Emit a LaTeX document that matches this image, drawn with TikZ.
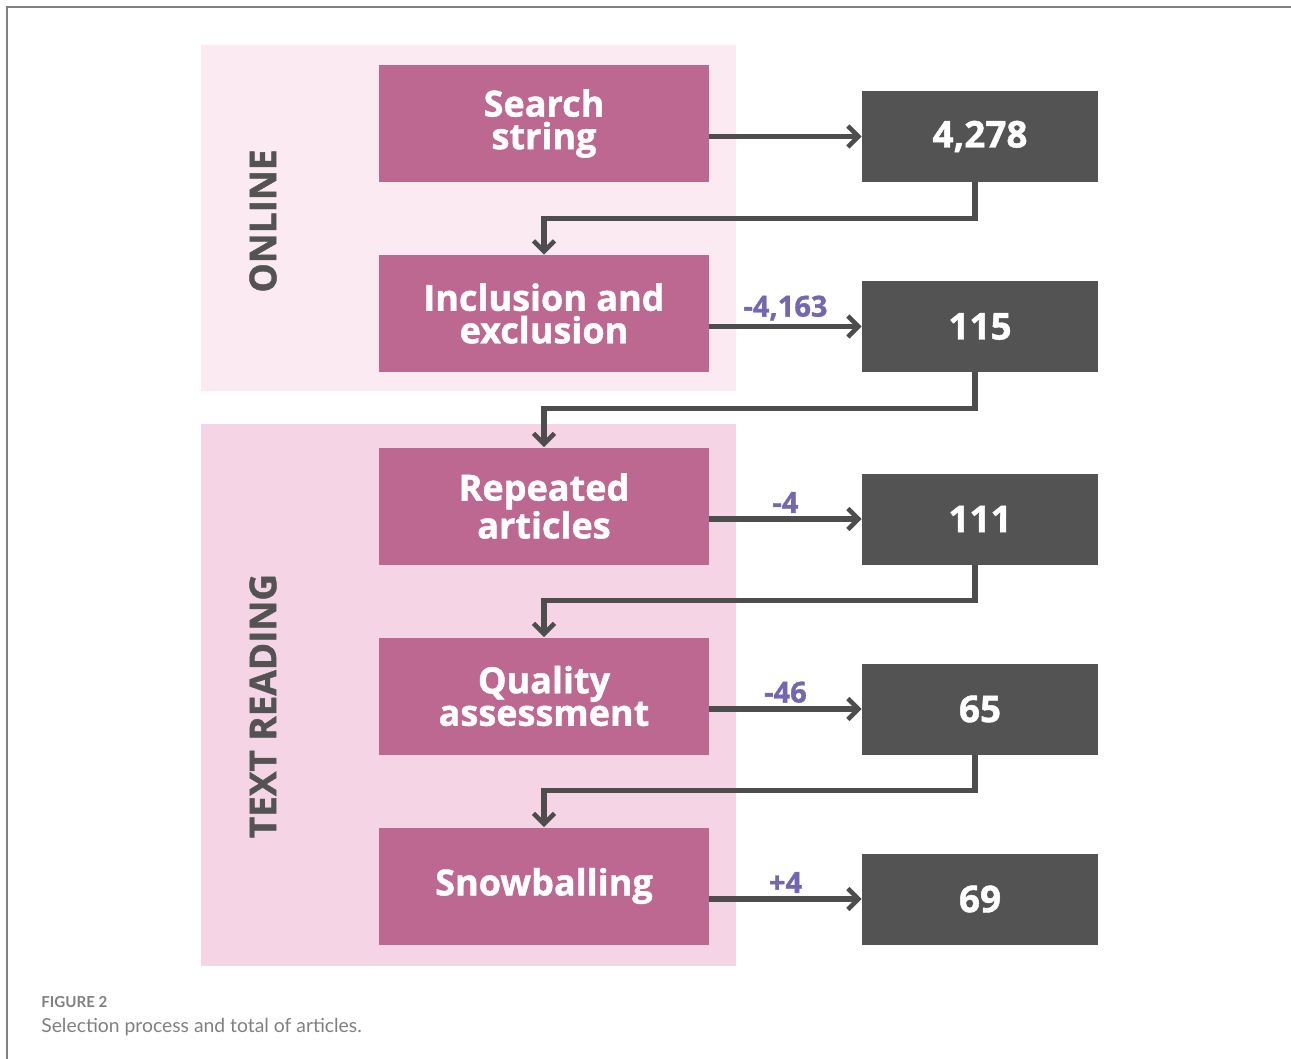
\documentclass[tikz,border=0pt]{standalone}
\usepackage{fontspec}
\setmainfont{Open Sans}[BoldFeatures={FakeBold=1.2}]
\newfontfamily\capfont{Lato}
\usepackage{tikz}
\usetikzlibrary{arrows.meta}
\usetikzlibrary{positioning}
\definecolor{stepmagenta}{HTML}{BC6891}
\definecolor{countgray}{HTML}{535353}
\definecolor{onlinebg}{HTML}{FBEAF2}
\definecolor{readingbg}{HTML}{F5D5E5}
\definecolor{linegray}{HTML}{4D4D4D}
\definecolor{deltapurple}{HTML}{7566B0}
\tikzset{stepbox/.style = {fill=stepmagenta, text=white, minimum width=6.6cm,
                           minimum height=2.34cm, align=center, inner sep=0,
                           font=\fontsize{20.5}{18.5}\selectfont\bfseries}}
\tikzset{countbox/.style = {fill=countgray, text=white, minimum width=4.72cm,
                            minimum height=1.82cm, inner sep=0,
                            font=\fontsize{21}{21}\selectfont\bfseries}}
\tikzset{flow/.style = {draw=linegray, line width=3pt,
                        -{Straight Barb[length=6pt, width=12pt, line width=2.6pt]}}}
\tikzset{delta/.style = {text=deltapurple, font=\fontsize{16.5}{16.5}\selectfont\bfseries,
                         inner sep=2pt}}
\tikzset{phase/.style = {text=countgray, rotate=90, font=\fontsize{21}{21}\selectfont\bfseries}}

\begin{document}
\begin{tikzpicture}
      \useasboundingbox (0, 0) rectangle (25.82, -21.18);
      \draw [gray, line width=0.8pt] (0.14, -21.3) -- (0.14, -0.14) -- (26, -0.14);
      \fill [onlinebg] (4.02, -0.9) rectangle (14.72, -7.82);
      \fill [readingbg] (4.02, -8.48) rectangle (14.72, -19.32);
      \node [phase] (online) at (5.26, -4.42) {ONLINE};
      \node [phase] (reading) at (5.26, -14.12) {TEXT READING};
      \node [stepbox] (s1) at (10.88, -2.47) {Search\\string};
      \node [stepbox] (s2) at (10.88, -6.27) {Inclusion and\\exclusion};
      \node [stepbox] (s3) at (10.88, -10.12) {Repeated\\articles};
      \node [stepbox] (s4) at (10.88, -13.92) {Quality\\assessment};
      \node [stepbox] (s5) at (10.88, -17.72) {Snowballing};
      \node [countbox] (n1) at (19.6, -2.73) {4,278};
      \node [countbox] (n2) at (19.6, -6.53) {115};
      \node [countbox] (n3) at (19.6, -10.38) {111};
      \node [countbox] (n4) at (19.6, -14.18) {65};
      \node [countbox] (n5) at (19.6, -17.98) {69};
      \draw [flow] (s1.east |- n1.west) -- (n1.west);
      \draw [flow] (s2.east |- n2.west) -- node [delta, above] {-4,163} (n2.west);
      \draw [flow] (s3.east |- n3.west) -- node [delta, above] {-4} (n3.west);
      \draw [flow] (s4.east |- n4.west) -- node [delta, above] {-46} (n4.west);
      \draw [flow] (s5.east |- n5.west) -- node [delta, above] {+4} (n5.west);
      \draw [flow] ([xshift=-1mm]n1.south) -- ++(0, -0.72) -| (s2.north);
      \draw [flow] ([xshift=-1mm]n2.south) -- ++(0, -0.72) -| (s3.north);
      \draw [flow] ([xshift=-1mm]n3.south) -- ++(0, -0.72) -| (s4.north);
      \draw [flow] ([xshift=-1mm]n4.south) -- ++(0, -0.72) -| (s5.north);
      \node [anchor=west, text=gray, inner sep=0, font=\capfont\fontsize{8.6}{8.6}\selectfont\bfseries]
            (fig) at (0.82, -20.04) {FIGURE 2};
      \node [anchor=west, text=gray, inner sep=0, font=\capfont\fontsize{11}{11}\selectfont]
            (caption) at (0.82, -20.54) {Selection process and total of articles.};
\end{tikzpicture}
\end{document}
